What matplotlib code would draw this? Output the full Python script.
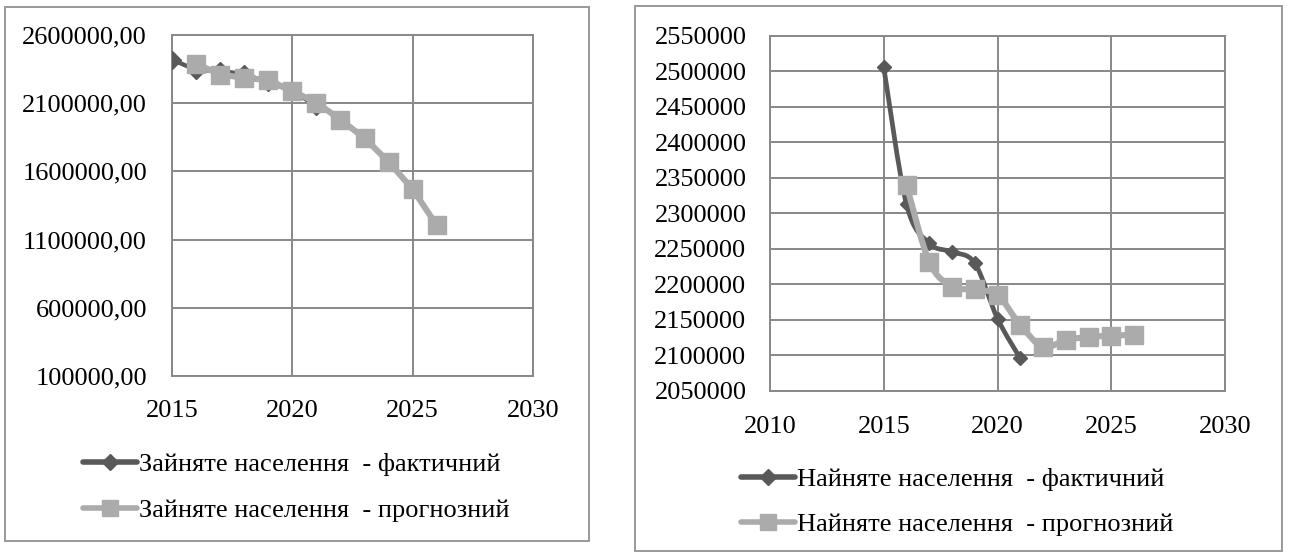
import matplotlib
matplotlib.use("Agg")
import matplotlib.pyplot as plt
from matplotlib.lines import Line2D
from matplotlib.patches import Rectangle, PathPatch
from matplotlib.path import Path
from matplotlib.ticker import FuncFormatter, MultipleLocator

plt.rcParams['font.family'] = ['Liberation Serif', 'DejaVu Serif']

# ---- data: employed population (left panel) ----
emp_years_fact = [2015, 2016, 2017, 2018, 2019, 2020, 2021]
emp_fact = [2419000, 2344000, 2337000, 2312000, 2254000, 2190000, 2080000]
emp_years_fc = [2016, 2017, 2018, 2019, 2020, 2021, 2022, 2023, 2024, 2025, 2026]
emp_fc = [2390000, 2310000, 2286000, 2269000, 2189000, 2105000,
          1979000, 1844000, 1670000, 1470000, 1204000]
emp_yticks = [100000, 600000, 1100000, 1600000, 2100000, 2600000]
emp_labels = ["Зайняте населення  - фактичний", "Зайняте населення  - прогнозний"]

# ---- data: hired population (right panel) ----
hir_years_fact = [2015, 2016, 2017, 2018, 2019, 2020, 2021]
hir_fact = [2506000, 2313000, 2258000, 2246000, 2230000, 2152000, 2096000]
hir_years_fc = [2016, 2017, 2018, 2019, 2020, 2021, 2022, 2023, 2024, 2025, 2026]
hir_fc = [2340000, 2232000, 2197000, 2193000, 2185000, 2143000,
          2112000, 2122000, 2126000, 2128000, 2129000]
hir_labels = ["Найняте населення  - фактичний", "Найняте населення  - прогнозний"]

DARK = "#595959"
LIGHT = "#ABABAB"
GRID = "#888888"
FS = 19

W, H = 1290, 553
fig = plt.figure(figsize=(W / 100, H / 100), dpi=100)


def fx(px):
    return px / W


def fy(py):
    return 1 - py / H


def smooth_path(xs, ys):
    # Catmull-Rom style Bezier through the points (spreadsheet "smoothed line")
    pts = list(zip(xs, ys))
    n = len(pts)
    verts = [pts[0]]
    codes = [Path.MOVETO]
    for i in range(n - 1):
        p0 = pts[i - 1] if i > 0 else pts[i]
        p1 = pts[i]
        p2 = pts[i + 1]
        p3 = pts[i + 2] if i + 2 < n else pts[i + 1]
        c1 = (p1[0] + (p2[0] - p0[0]) / 6, p1[1] + (p2[1] - p0[1]) / 6)
        c2 = (p2[0] - (p3[0] - p1[0]) / 6, p2[1] - (p3[1] - p1[1]) / 6)
        verts += [c1, c2, p2]
        codes += [Path.CURVE4] * 3
    return Path(verts, codes)


def style_axes(ax, ypad, xpad):
    for s in ax.spines.values():
        s.set_color(GRID)
        s.set_linewidth(1.4)
    ax.grid(True, color=GRID, linewidth=1.4)
    ax.set_axisbelow(True)
    ax.tick_params(length=0, labelsize=FS, colors="black")
    ax.tick_params(axis="y", pad=ypad)
    ax.tick_params(axis="x", pad=xpad)


# outer chart frames
fig.add_artist(Rectangle((fx(5), fy(541)), fx(584), 534 / H, transform=fig.transFigure,
                         fill=False, edgecolor="#999999", linewidth=1.4))
fig.add_artist(Rectangle((fx(635), fy(551)), fx(647), 545 / H, transform=fig.transFigure,
                         fill=False, edgecolor="#999999", linewidth=1.4))

# ---- left panel ----
ax1 = fig.add_axes([fx(172), fy(376), fx(361), 341 / H])
ax1.plot(emp_years_fact, emp_fact, color=DARK, linewidth=3.2, marker="D",
         markersize=9, markerfacecolor=DARK, markeredgecolor=DARK, zorder=3)
ax1.plot(emp_years_fc, emp_fc, color=LIGHT, linewidth=4.4, marker="s",
         markersize=13, markerfacecolor=LIGHT, markeredgecolor=LIGHT, zorder=4)
ax1.set_xlim(2015, 2030)
ax1.set_ylim(emp_yticks[0], emp_yticks[-1])
ax1.xaxis.set_major_locator(MultipleLocator(5))
ax1.set_yticks(emp_yticks)
ax1.yaxis.set_major_formatter(FuncFormatter(lambda v, p: f"{int(round(v))},00"))
style_axes(ax1, 18, 17)

# ---- right panel ----
ax2 = fig.add_axes([fx(770), fy(391), fx(455), 355 / H])
ax2.add_patch(PathPatch(smooth_path(hir_years_fact, hir_fact), fill=False,
                        edgecolor=DARK, linewidth=3.4, zorder=3, capstyle="round"))
ax2.plot(hir_years_fact, hir_fact, linestyle="none", marker="D", markersize=7.5,
         markerfacecolor=DARK, markeredgecolor=DARK, zorder=3)
ax2.add_patch(PathPatch(smooth_path(hir_years_fc, hir_fc), fill=False,
                        edgecolor=LIGHT, linewidth=4.4, zorder=4, capstyle="round"))
ax2.plot(hir_years_fc, hir_fc, linestyle="none", marker="s", markersize=13,
         markerfacecolor=LIGHT, markeredgecolor=LIGHT, zorder=4)
ax2.set_xlim(2010, 2030)
ax2.set_ylim(2050000, 2550000)
ax2.xaxis.set_major_locator(MultipleLocator(5))
ax2.yaxis.set_major_locator(MultipleLocator(50000))
ax2.yaxis.set_major_formatter(FuncFormatter(lambda v, p: f"{int(round(v))}"))
style_axes(ax2, 17, 18)


# ---- legends ----
def legend_entry(x0, x1, y, color, lw, marker, ms, text):
    xm = (x0 + x1) / 2
    fig.add_artist(Line2D([fx(x0), fx(xm), fx(x1)], [fy(y)] * 3, transform=fig.transFigure,
                          color=color, linewidth=lw, solid_capstyle="round",
                          marker=marker, markersize=ms, markevery=[1],
                          markerfacecolor=color, markeredgecolor=color))
    fig.text(fx(x1 + 2), fy(y), text, fontsize=FS, va="center_baseline", ha="left")


legend_entry(83, 137, 462, DARK, 4.0, "D", 8, emp_labels[0])
legend_entry(83, 137, 508, LIGHT, 4.0, "s", 11, emp_labels[1])
legend_entry(741, 795, 477, DARK, 4.0, "D", 8, hir_labels[0])
legend_entry(741, 795, 522, LIGHT, 4.0, "s", 11, hir_labels[1])

fig.savefig("out.png", dpi=100)
